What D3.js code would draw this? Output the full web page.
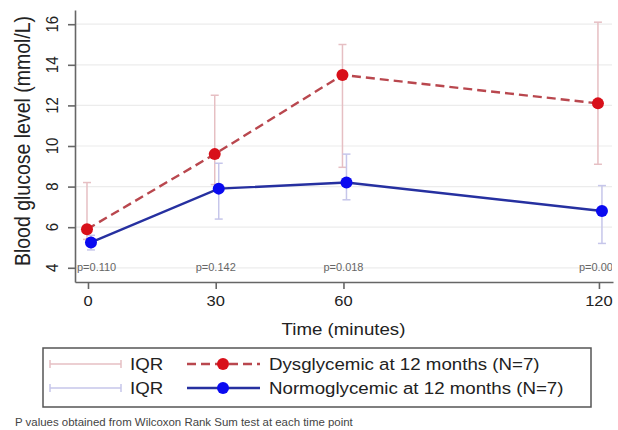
<!DOCTYPE html>
<html>
<head>
<meta charset="utf-8">
<script src="https://cdn.jsdelivr.net/npm/d3@7"></script>
<style>
  body { margin: 0; background: #fff; }
  text { font-family: "Liberation Sans", Arial, sans-serif; }
</style>
</head>
<body>
<div id="chart"></div>
<script>
// data
var times = [0, 30, 60, 120];
var yTicks = [4, 6, 8, 10, 12, 14, 16];
var pValues = ["p=0.110", "p=0.142", "p=0.018", "p=0.009"];

var dysMedian = [5.9, 9.6, 13.5, 12.1];
var dysLow = [5.4, 8.1, 8.95, 9.1];
var dysHigh = [8.2, 12.5, 15.0, 16.1];

var normMedian = [5.25, 7.9, 8.2, 6.8];
var normLow = [4.88, 6.4, 7.35, 5.2];
var normHigh = [5.6, 9.15, 9.6, 8.05];

var svgWidth = 618, svgHeight = 430;
var stretch = 1.1; // text in the picture is a bit wider than tall

var svg = d3.select("#chart").append("svg")
  .attr("width", svgWidth)
  .attr("height", svgHeight);

var plot = { left: 75, right: 613, top: 10, bottom: 282 };

var x = d3.scaleLinear().domain([-3.05, 123.3]).range([plot.left, plot.right]);
var y = d3.scaleLinear().domain([3.3, 16.7]).range([plot.bottom, plot.top]);

// helper for horizontally stretched text
function label(g, tx, ty, str, size, anchor, rot) {
  return g.append("text")
    .attr("transform", "translate(" + tx + "," + ty + ") scale(" + stretch + ",1)" + (rot ? " rotate(" + rot + ")" : ""))
    .attr("text-anchor", anchor || "start")
    .attr("font-size", size)
    .attr("fill", "#222")
    .text(str);
}

svg.append("clipPath").attr("id", "plotclip")
  .append("rect")
  .attr("x", plot.left).attr("y", 0)
  .attr("width", plot.right - plot.left - 1).attr("height", plot.bottom);

// gridlines
svg.append("g").selectAll("line")
  .data(yTicks)
  .enter().append("line")
  .attr("x1", plot.left).attr("x2", plot.right - 1)
  .attr("y1", d => y(d)).attr("y2", d => y(d))
  .attr("stroke", "#ececec")
  .attr("stroke-width", 1.2);

// axes
var yAxis = svg.append("g")
  .attr("transform", "translate(" + plot.left + ",0)")
  .call(d3.axisLeft(y).tickValues(yTicks).tickSize(7).tickSizeOuter(0).tickFormat(""));
var xAxis = svg.append("g")
  .attr("transform", "translate(0," + plot.bottom + ")")
  .call(d3.axisBottom(x).tickValues(times).tickSize(7).tickSizeOuter(0).tickFormat(""));
[xAxis, yAxis].forEach(function(a) {
  a.selectAll("path, line").attr("stroke", "#666").attr("stroke-width", 1.6);
});

yTicks.forEach(function(t) {
  label(svg, 58, y(t), t, 15, "middle", -90);
});
times.forEach(function(t) {
  label(svg, x(t), 306, t, 15, "middle");
});

label(svg, 30, 141, "Blood glucose level (mmol/L)", 19.5, "middle", -90);
label(svg, x(60), 335, "Time (minutes)", 17, "middle");

// p values along the bottom gridline
var pg = svg.append("g").attr("clip-path", "url(#plotclip)");
pValues.forEach(function(p, i) {
  var t = label(pg, x(times[i]), 271, p, 10, "middle").attr("fill", "#666");
  var w = t.node().getComputedTextLength() * stretch;
  var cx = Math.max(x(times[i]), plot.left + 2 + w / 2);
  t.attr("transform", "translate(" + cx + ",271) scale(" + stretch + ",1)");
});

// series
var series = [
  { name: "Dysglycemic at 12 months (N=7)", med: dysMedian, lo: dysLow, hi: dysHigh,
    dx: -1, line: "#b9474e", dot: "#d8101a", iqr: "#e6bfc3", dash: "9,5" },
  { name: "Normoglycemic at 12 months (N=7)", med: normMedian, lo: normLow, hi: normHigh,
    dx: 3, line: "#2630a0", dot: "#0a0af0", iqr: "#c6c6ea", dash: null }
];

series.forEach(function(s) {
  var g = svg.append("g");
  times.forEach(function(t, i) {
    var cx = x(t) + s.dx;
    g.append("line").attr("x1", cx).attr("x2", cx)
      .attr("y1", y(s.lo[i])).attr("y2", y(s.hi[i]))
      .attr("stroke", s.iqr).attr("stroke-width", 1.5);
    [s.lo[i], s.hi[i]].forEach(function(v) {
      g.append("line").attr("x1", cx - 4).attr("x2", cx + 4)
        .attr("y1", y(v)).attr("y2", y(v))
        .attr("stroke", s.iqr).attr("stroke-width", 1.5);
    });
  });
});

series.forEach(function(s) {
  var line = d3.line()
    .x((d, i) => x(times[i]) + s.dx)
    .y(d => y(d));
  svg.append("path")
    .datum(s.med)
    .attr("d", line)
    .attr("fill", "none")
    .attr("stroke", s.line)
    .attr("stroke-width", 2.4)
    .attr("stroke-dasharray", s.dash);
  svg.append("g").selectAll("circle")
    .data(s.med)
    .enter().append("circle")
    .attr("cx", (d, i) => x(times[i]) + s.dx)
    .attr("cy", d => y(d))
    .attr("r", 6)
    .attr("fill", s.dot);
});

// legend
var legend = svg.append("g");
legend.append("rect")
  .attr("x", 43).attr("y", 348)
  .attr("width", 548).attr("height", 59)
  .attr("fill", "#fff")
  .attr("stroke", "#555")
  .attr("stroke-width", 1.5);

var rowY = [364, 388];
series.forEach(function(s, i) {
  var ry = rowY[i];
  legend.append("line").attr("x1", 50).attr("x2", 121).attr("y1", ry).attr("y2", ry)
    .attr("stroke", s.iqr).attr("stroke-width", 1.5);
  [50, 121].forEach(function(cx) {
    legend.append("line").attr("x1", cx).attr("x2", cx).attr("y1", ry - 4).attr("y2", ry + 4)
      .attr("stroke", s.iqr).attr("stroke-width", 1.5);
  });
  label(legend, 130, ry + 6, "IQR", 17, "start");
  legend.append("line").attr("x1", 187).attr("x2", 260).attr("y1", ry).attr("y2", ry)
    .attr("stroke", s.line).attr("stroke-width", 2.4)
    .attr("stroke-dasharray", s.dash);
  legend.append("circle").attr("cx", 223).attr("cy", ry).attr("r", 6).attr("fill", s.dot);
  label(legend, 269, ry + 6, s.name, 17, "start");
});

label(svg, 15, 426, "P values obtained from Wilcoxon Rank Sum test at each time point", 10.4, "start")
  .attr("fill", "#444");
</script>
</body>
</html>
